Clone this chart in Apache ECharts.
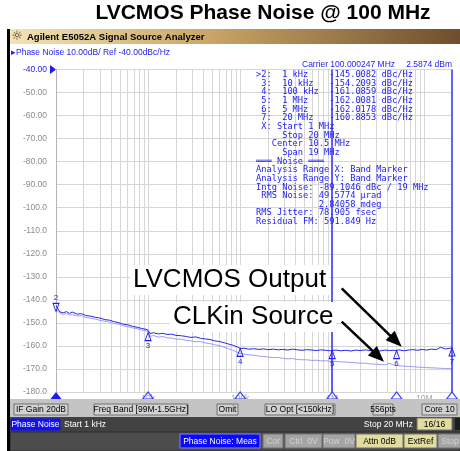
<!DOCTYPE html>
<html><head><meta charset="utf-8">
<script src="https://cdn.jsdelivr.net/npm/echarts@6.0.0/dist/echarts.min.js"></script>
<style>html,body{margin:0;padding:0;background:#fff}#c{width:460px;height:451px}</style>
</head><body><div id="c"></div>
<script>
// ---- data ----
const freqs = [1000,1100,1200,1300,1400,1500,1700,1900,2100,2400,2700,3000,3400,3800,4300,4800,5400,6000,6800,7600,8500,9500,
  10000,10500,11500,13000,14500,16000,18000,20000,23000,26000,29000,33000,37000,42000,47000,53000,60000,67000,75000,85000,95000,
  100000,110000,125000,140000,160000,180000,200000,230000,260000,290000,330000,370000,420000,470000,530000,600000,670000,750000,850000,950000,
  1000000,1100000,1250000,1400000,1600000,1800000,2000000,2300000,2600000,2900000,3300000,3700000,4200000,4700000,5000000,5300000,6000000,6700000,7500000,8500000,9500000,
  10500000,12000000,13500000,15000000,17000000,19000000,20000000];
const lvcmosOutput = [-142.5,-145.2,-145.6,-145.1,-145.9,-145.3,-146.2,-146.0,-146.8,-147.1,-147.6,-147.9,-148.6,-148.8,-149.5,-149.9,-150.6,-150.8,-151.5,-151.9,-152.4,-152.8,
  -153.2,-154.6,-154.3,-154.8,-154.5,-155.0,-154.9,-155.4,-155.6,-155.9,-156.3,-156.1,-156.7,-157.0,-157.2,-157.8,-158.1,-158.6,-159.2,-159.8,-160.6,
  -161.1,-161.0,-161.4,-161.2,-161.5,-161.3,-161.6,-161.4,-161.7,-161.5,-161.8,-161.4,-161.7,-161.9,-161.6,-161.8,-162.0,-161.7,-161.9,-162.1,
  -162.0,-161.8,-162.1,-161.9,-162.2,-161.8,-162.0,-161.7,-162.1,-161.9,-162.2,-161.8,-162.0,-161.9,-162.0,-161.7,-162.1,-161.8,-161.6,-161.9,-161.5,
  -161.8,-161.4,-161.6,-160.6,-161.3,-161.0,-160.9];
const clkinSource = [-144.0,-145.8,-146.3,-145.9,-146.6,-146.4,-147.0,-146.9,-147.6,-148.0,-148.4,-148.9,-149.3,-149.6,-150.3,-150.5,-151.3,-151.6,-152.2,-152.5,-153.1,-153.4,
  -153.8,-155.8,-155.5,-156.2,-155.9,-156.5,-156.6,-157.0,-157.1,-157.6,-157.8,-158.2,-158.1,-158.7,-159.0,-159.5,-159.9,-160.5,-161.2,-162.0,-162.9,
  -163.3,-163.5,-163.9,-164.0,-164.4,-164.6,-164.8,-165.1,-165.0,-165.4,-165.6,-165.5,-165.9,-166.0,-166.0,-166.3,-166.2,-166.5,-166.4,-166.7,
  -166.6,-166.8,-166.9,-167.0,-167.2,-167.3,-167.5,-167.5,-167.8,-167.9,-168.0,-168.2,-167.6,-168.4,-168.5,-168.6,-168.8,-168.9,-169.0,-169.2,-169.3,
  -169.4,-169.5,-169.6,-169.7,-169.8,-169.9,-170.0];
const markerIds = [2,3,4,5,6,7];
const markerFreqs = [1000,10000,100000,1000000,5000000,20000000];
const markerValues = [-145.0082,-154.2093,-161.0859,-162.0081,-162.0178,-160.8853];
const markerFreqLabels = ['1 kHz','10 kHz','100 kHz','1 MHz','5 MHz','20 MHz'];
const bandFreqs = [1000000,20000000];
const bottomTriFreqs = [10000,100000,1000000,5000000,20000000];
const xTickLabels = {10000:'10k',100000:'100k',1000000:'1M',10000000:'10M'};

const BLUE = '#1c1cf2';
const gridFreqs = [];
for (let d = 1000; d <= 10000000; d *= 10) for (let m = 1; m <= 9; m++) { const f = d*m; if (f > 1000 && f < 20000000) gridFreqs.push(f); }

const markerLines = markerIds.map((id,i)=>{
  const lab = (id===2?'>':' ') + id + ':  ' + markerFreqLabels[i];
  return lab + ' '.repeat(14 - lab.length) + markerValues[i].toFixed(4) + ' dBc/Hz';
});
const infoLines = markerLines.concat([
  ' X: Start 1 MHz',
  '     Stop 20 MHz',
  '   Center 10.5 MHz',
  '     Span 19 MHz',
  '═══ Noise ═══',
  'Analysis Range X: Band Marker',
  'Analysis Range Y: Band Marker',
  'Intg Noise: -89.1046 dBc / 19 MHz',
  ' RMS Noise: 49.5774 µrad',
  '            2.84058 mdeg',
  'RMS Jitter: 78.905 fsec',
  'Residual FM: 591.849 Hz'
]);

const chart = echarts.init(document.getElementById('c'));
const UI = '"Liberation Sans", Arial, sans-serif';

function btn(x,y,w,h,text,bg,fg,border){
  return [
    {type:'rect', shape:{x:x,y:y,width:w,height:h}, style:{fill:bg, stroke:border||'#707070', lineWidth:1}, z:100},
    {type:'text', x:x+w/2, y:y+h/2+0.5, style:{text:text, fill:fg, font:'8.5px '+UI, textAlign:'center', textVerticalAlign:'middle'}, z:101}
  ];
}

const graphics = [
  {type:'text', x:263, y:13, style:{text:'LVCMOS Phase Noise @ 100 MHz', fill:'#000', font:'bold 21px '+UI, textAlign:'center', textVerticalAlign:'middle'}, z:100},
  {type:'rect', shape:{x:7,y:29,width:3,height:422}, style:{fill:'#000'}, z:100},
  {type:'rect', shape:{x:10,y:29,width:450,height:15}, style:{fill:new echarts.graphic.LinearGradient(0,0,1,0,[{offset:0,color:'#f3e3b5'},{offset:0.45,color:'#c9a466'},{offset:1,color:'#6e4e2c'}])}, z:100},
  {type:'text', x:17, y:36.5, style:{text:'☼', fill:'#3a3020', font:'13px "DejaVu Sans"', textAlign:'center', textVerticalAlign:'middle'}, z:101},
  {type:'text', x:27, y:37, style:{text:'Agilent E5052A Signal Source Analyzer', fill:'#000', font:'bold 9.5px '+UI, textAlign:'left', textVerticalAlign:'middle'}, z:101},
  {type:'text', x:11, y:53, style:{text:'▸Phase Noise 10.00dB/ Ref -40.00dBc/Hz', fill:BLUE, font:'8.5px '+UI, textAlign:'left', textVerticalAlign:'middle'}, z:101},
  {type:'text', x:302, y:64.5, style:{text:'Carrier 100.000247 MHz', fill:BLUE, font:'8.5px '+UI, textAlign:'left', textVerticalAlign:'middle'}, z:101},
  {type:'text', x:452, y:64.5, style:{text:'2.5874 dBm', fill:BLUE, font:'8.5px '+UI, textAlign:'right', textVerticalAlign:'middle'}, z:101},
  {type:'text', x:256, y:70.5, style:{text:infoLines.join('\n'), fill:BLUE, font:'8.7px "DejaVu Sans Mono", monospace', lineHeight:8.65, textAlign:'left', textVerticalAlign:'top'}, z:101},
  {type:'text', x:130, y:280, style:{text:'LVCMOS Output', fill:'#000', font:'26px '+UI, backgroundColor:'#fff', padding:[2,3], textAlign:'left', textVerticalAlign:'middle'}, z:102},
  {type:'text', x:170, y:317, style:{text:'CLKin Source', fill:'#000', font:'26px '+UI, backgroundColor:'#fff', padding:[2,3], textAlign:'left', textVerticalAlign:'middle'}, z:102},
  {type:'line', shape:{x1:341.7,y1:288.3,x2:392,y2:337.3}, style:{stroke:'#000', lineWidth:2.5}, z:103},
  {type:'polygon', shape:{points:[[401.7,346.7],[385.7,340.2],[394.7,330.8]]}, style:{fill:'#000'}, z:103},
  {type:'line', shape:{x1:341.7,y1:321.7,x2:374,y2:352.2}, style:{stroke:'#000', lineWidth:2.5}, z:103},
  {type:'polygon', shape:{points:[[384,361.7],[367.9,355.4],[376.9,346.0]]}, style:{fill:'#000'}, z:103},
  // status bar
  {type:'rect', shape:{x:10,y:399,width:450,height:18}, style:{fill:'#c4c4c4'}, z:99},
  {type:'rect', shape:{x:10,y:417,width:450,height:15}, style:{fill:'#424242'}, z:99},
  {type:'rect', shape:{x:10,y:432,width:450,height:19}, style:{fill:'#4c4c4c', stroke:'#2c2c2c', lineWidth:1}, z:99},
  {type:'text', x:64, y:424.5, style:{text:'Start 1 kHz', fill:'#fff', font:'8.5px '+UI, textAlign:'left', textVerticalAlign:'middle'}, z:101},
  {type:'text', x:413, y:424.5, style:{text:'Stop 20 MHz', fill:'#fff', font:'8.5px '+UI, textAlign:'right', textVerticalAlign:'middle'}, z:101},
  {type:'rect', shape:{x:455,y:418,width:6,height:12}, style:{fill:'#1e1e1e'}, z:100}
].concat(
  btn(14,404,54,11,'IF Gain 20dB','#d2d2d2','#000'),
  btn(94,404,94,11,'Freq Band [99M-1.5GHz]','#d2d2d2','#000'),
  btn(217,404,21,11,'Omit','#d2d2d2','#000'),
  btn(265,404,70,11,'LO Opt [<150kHz]','#d2d2d2','#000'),
  btn(373,404,20,11,'556pts','#d2d2d2','#000'),
  btn(422,404,35,11,'Core 10','#d2d2d2','#000'),
  btn(11,419,49,11,'Phase Noise','#1010f8','#fff','#1010f8'),
  btn(417,418,35,12,'16/16','#e2dc9e','#000'),
  btn(180,434,80,14,'Phase Noise: Meas','#0a0af8','#fff','#8080ff'),
  btn(263,434,20,14,'Cor','#a4a4a4','#d4d4d4'),
  btn(285,434,37,14,'Ctrl  0V','#a4a4a4','#d4d4d4'),
  btn(323,434,32,14,'Pow  0V','#a4a4a4','#d4d4d4'),
  btn(356,434,47,14,'Attn 0dB','#e2dc9e','#000'),
  btn(404,434,33,14,'ExtRef','#e2dc9e','#000'),
  btn(438,434,24,14,'Stop','#a4a4a4','#d4d4d4')
);

const option = {
  animation:false,
  backgroundColor:'#fff',
  grid:{left:56, right:8, top:69.5, height:322.5},
  xAxis:{type:'log', logBase:10, min:1000, max:20000000,
    axisLine:{show:false}, axisTick:{show:false}, splitLine:{show:false},
    axisLabel:{margin:2, fontSize:8.5, fontFamily:'Liberation Sans', color:'#a4a4a4', formatter:v=>xTickLabels[Math.round(v)]||''}},
  yAxis:{type:'value', min:-180, max:-40, interval:10,
    axisLine:{show:true, lineStyle:{color:'#b4b4b4'}}, axisTick:{show:false},
    splitLine:{lineStyle:{color:'#d6d6d6', width:1}},
    axisLabel:{margin:9, fontSize:8.5, fontFamily:'Liberation Sans', color:(v)=> (+v === -40 ? BLUE : '#8c8c8c'),
      formatter:v=> v > -100 ? v.toFixed(2) : v.toFixed(1)}},
  series:[
    {type:'line', name:'grid', data:[], z:1, silent:true,
      markLine:{silent:true, z:1, symbol:['none','none'], label:{show:false}, animation:false,
        lineStyle:{color:'#d6d6d6', width:1, type:'solid'}, data:gridFreqs.map(f=>({xAxis:f}))}},
    {type:'line', name:'CLKin Source', data:freqs.map((f,i)=>[f, clkinSource[i]]), showSymbol:false, z:3,
      lineStyle:{color:'#9c9cf4', width:1}},
    {type:'line', name:'LVCMOS Output', data:freqs.map((f,i)=>[f, lvcmosOutput[i]]), showSymbol:false, z:4,
      lineStyle:{color:'#2626e8', width:1},
      markLine:{silent:true, z:5, symbol:['none','none'], label:{show:false}, animation:false,
        lineStyle:{color:'#3a3aff', width:1.6, type:'solid'}, data:bandFreqs.map(f=>({xAxis:f}))},
      markPoint:{silent:true, z:6, animation:false,
        data: markerIds.map((id,i)=>({
          coord:[markerFreqs[i], markerValues[i]],
          symbol:'triangle', symbolSize:[6,8],
          symbolRotate: id===2 ? 180 : 0,
          symbolOffset:[0, id===2 ? -4 : 4],
          itemStyle:{color:'rgba(255,255,255,0)', borderColor:BLUE, borderWidth:1},
          label:{show:true, formatter:String(id), position: id===2 ? 'top' : 'bottom', distance:1, color:BLUE, fontSize:8, fontFamily:'Liberation Sans'}
        })).concat(
          [{coord:[1000,-180], symbol:'triangle', symbolSize:[11,7], symbolOffset:[0,3.5], itemStyle:{color:BLUE}, label:{show:false}}],
          bottomTriFreqs.map(f=>({coord:[f,-180], symbol:'triangle', symbolSize:[11,7], symbolOffset:[0,3.5],
            itemStyle:{color:'rgba(255,255,255,0)', borderColor:'#3a3aff', borderWidth:1}, label:{show:false}})),
          [{coord:[1000,-40], symbol:'triangle', symbolSize:[9,6], symbolRotate:-90, symbolOffset:[-3,0], itemStyle:{color:BLUE}, label:{show:false}}]
        )}}
  ],
  graphic:{elements:graphics}
};
chart.setOption(option);
</script></body></html>
